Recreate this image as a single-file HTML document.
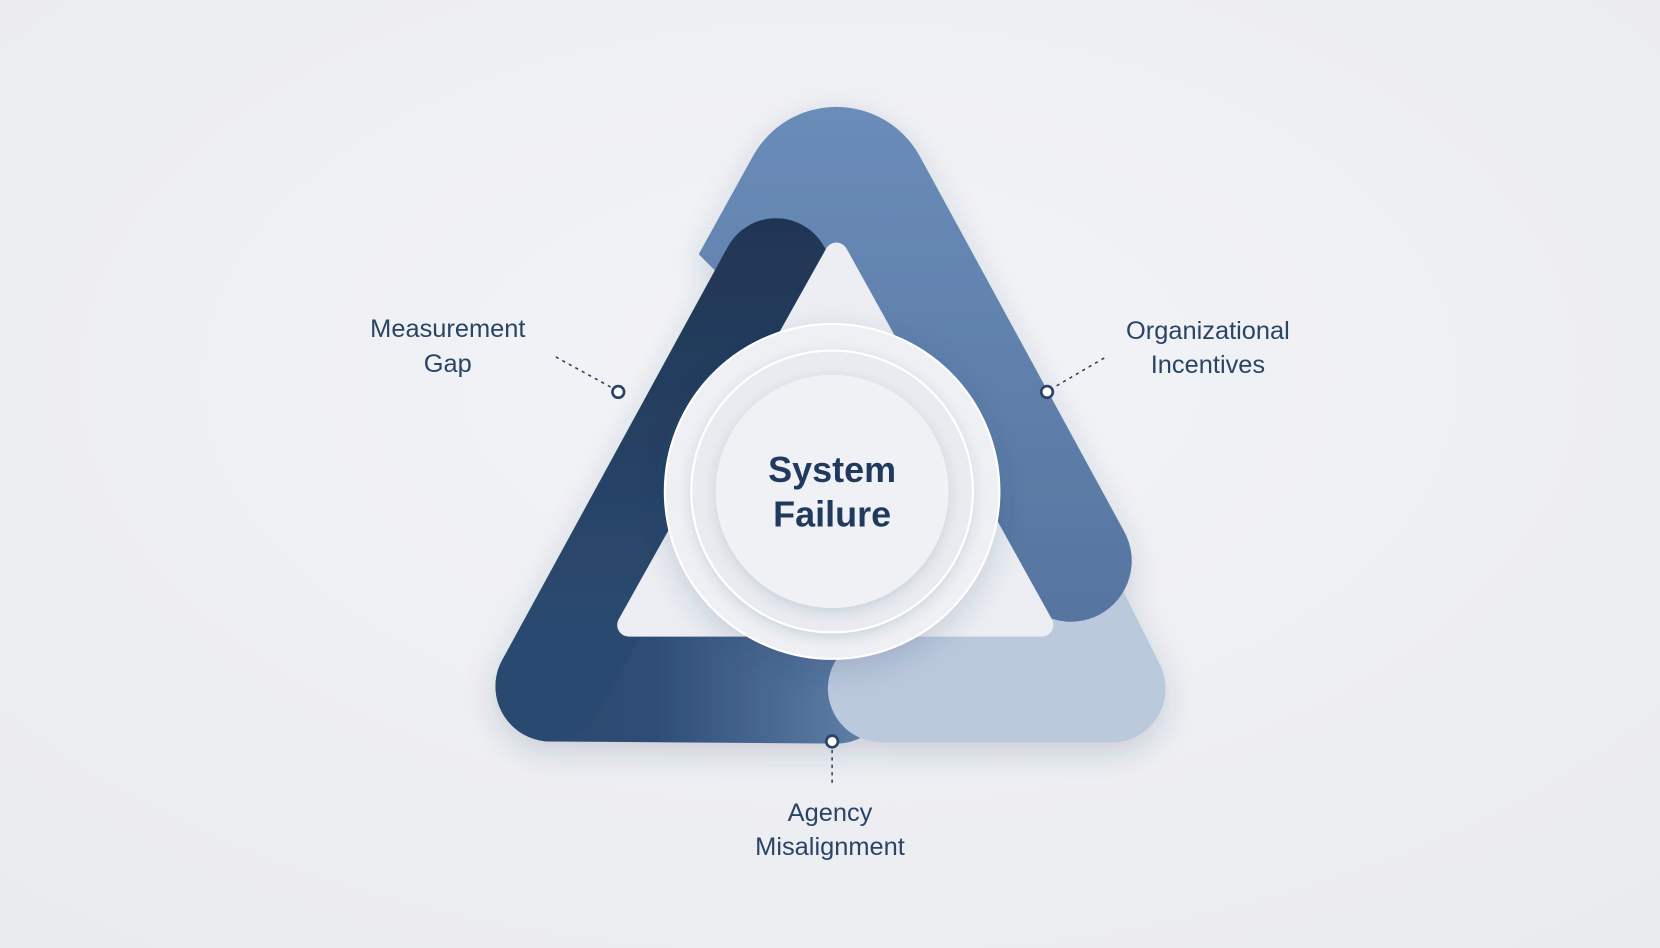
<!DOCTYPE html>
<html><head><meta charset="utf-8"><style>
html,body{margin:0;padding:0;width:1660px;height:948px;overflow:hidden;background:#eeeff3}
svg{display:block}
text{font-family:"Liberation Sans",sans-serif}
</style></head><body>
<svg width="1660" height="948" viewBox="0 0 1568 895" preserveAspectRatio="none" xmlns="http://www.w3.org/2000/svg">
<defs>
<radialGradient id="bg" cx="50%" cy="40%" r="75%"><stop offset="0" stop-color="#f3f4f7"/><stop offset="1" stop-color="#eaebef"/></radialGradient>
<linearGradient id="dk" gradientUnits="userSpaceOnUse" x1="520" y1="0" x2="800" y2="0"><stop offset="0" stop-color="#2c4a70"/><stop offset="0.35" stop-color="#2e4d75"/><stop offset="1" stop-color="#5b7ba4"/></linearGradient>
<linearGradient id="dkv" gradientUnits="userSpaceOnUse" x1="0" y1="200" x2="0" y2="600"><stop offset="0" stop-color="#1f3553"/><stop offset="1" stop-color="#2c4a70"/></linearGradient>
<linearGradient id="md" gradientUnits="userSpaceOnUse" x1="0" y1="100" x2="0" y2="590"><stop offset="0" stop-color="#6a8cb8"/><stop offset="1" stop-color="#5675a0"/></linearGradient>
<filter id="sh" x="-20%" y="-20%" width="140%" height="140%"><feDropShadow dx="0" dy="10" stdDeviation="14" flood-color="#1f3a5c" flood-opacity="0.18"/></filter>
<filter id="sh2" x="-20%" y="-20%" width="140%" height="140%"><feDropShadow dx="0" dy="4" stdDeviation="6" flood-color="#1f3a5c" flood-opacity="0.15"/></filter>
</defs>
<rect width="1568" height="895" fill="url(#bg)"/>
<g filter="url(#sh)" fill="none" stroke-linecap="round" stroke-linejoin="round">
<polyline points="520,648 790,650" stroke="url(#dk)" stroke-width="104"/>
<polyline points="833,650 1050,650 995,540" stroke="#bbc9dc" stroke-width="102"/>
<path d="M 660,240 L 712,146 A 90 90 0 0 1 868,146 L 1062,502 A 57.5 57.5 0 0 1 961,557 L 790,250 L 720,300 Z" fill="url(#md)" stroke="none"/>
<polyline points="733,258 520,648" stroke="url(#dkv)" stroke-width="104"/>
</g>
<polygon points="790,240 594,590 984,590" fill="#eceef3" stroke="#eceef3" stroke-width="22" stroke-linejoin="round"/>
<circle cx="786" cy="464" r="158" fill="#eef0f4" stroke="#ffffff" stroke-width="2" filter="url(#sh)"/>
<circle cx="786" cy="464" r="133" fill="#e9ebf0" stroke="#ffffff" stroke-width="2" filter="url(#sh2)"/>
<circle cx="786" cy="464" r="110" fill="#f0f1f5" filter="url(#sh2)"/>
<text x="786" y="455" text-anchor="middle" font-size="34" font-weight="bold" fill="#1f3a5c">System</text>
<text x="786" y="497" text-anchor="middle" font-size="34" font-weight="bold" fill="#1f3a5c">Failure</text>
<g stroke="#2a4466" stroke-width="1.5" stroke-dasharray="3,4">
<line x1="525" y1="337" x2="578" y2="366"/>
<line x1="1043" y1="338" x2="995" y2="366"/>
<line x1="786" y1="708" x2="786" y2="742"/>
</g>
<g fill="#ffffff" stroke="#2a4466" stroke-width="2.5">
<circle cx="584" cy="370" r="5.5"/>
<circle cx="989" cy="370" r="5.5"/>
<circle cx="786" cy="700" r="5.5"/>
</g>
<g font-size="24" fill="#2a4466" text-anchor="middle">
<text x="423" y="318">Measurement</text>
<text x="423" y="351">Gap</text>
<text x="1141" y="320">Organizational</text>
<text x="1141" y="352">Incentives</text>
<text x="784" y="775">Agency</text>
<text x="784" y="807">Misalignment</text>
</g>
</svg>
</body></html>
